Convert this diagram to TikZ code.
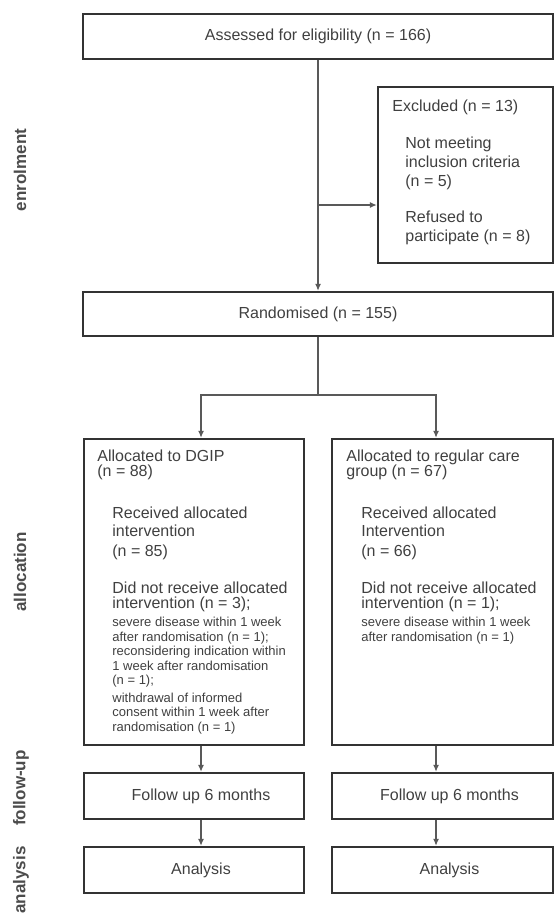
\documentclass[tikz,border=0pt]{standalone}
\usepackage{fontspec}
\setmainfont{Liberation Sans}
\usetikzlibrary{positioning,arrows.meta}

\begin{document}
\begin{tikzpicture}[x=0.5pt, y=-0.5pt,
      box/.style={draw=black!80, line width=1.2pt, inner sep=0pt,
        text=black!75, font=\fontsize{8}{9.5}\selectfont},
      txt/.style={anchor=north west, inner sep=0pt, align=left,
        text=black!75, font=\fontsize{8}{9.5}\selectfont},
      tight/.style={txt, font=\fontsize{8}{7.5}\selectfont},
      small/.style={txt, font=\fontsize{6.5}{7.25}\selectfont},
      phase/.style={rotate=90, inner sep=0pt, text=black!70,
        font=\bfseries\fontsize{8.5}{10}\selectfont},
      conn/.style={draw=black!65, line width=0.6pt},
      arr/.style={conn, -{Latex[length=3.5pt,width=3pt]}}]
      \useasboundingbox (0,0) rectangle (554,915);
      % enrolment
      \node[box, minimum width=235pt, minimum height=22.5pt] (Assess) at (318,36.5)
        {Assessed for eligibility (n = 166)};
      \node[box, minimum width=87.5pt, minimum height=88pt] (Excl) at (465.5,175) {};
      \node[txt] (ExclHead) at (392,100) {Excluded (n = 13)};
      \node[txt] (ExclA) at (405,137) {Not meeting\\inclusion criteria\\(n = 5)};
      \node[txt] (ExclB) at (405,211) {Refused to\\participate (n = 8)};
      \node[box, minimum width=235pt, minimum height=22pt] (Rand) at (318,314)
        {Randomised (n = 155)};
      % allocation
      \node[box, minimum width=110pt, minimum height=153pt] (Dgip) at (194,592) {};
      \node[tight] (DgipHead) at (97,450) {Allocated to DGIP\\(n = 88)};
      \node[txt] (DgipRec) at (112,506) {Received allocated\\intervention\\(n = 85)};
      \node[tight] (DgipNot) at (112,581) {Did not receive allocated\\intervention (n = 3);};
      \node[small, below=2.5pt of DgipNot.south west, anchor=north west] (DgipWhy)
        {severe disease within 1 week\\after randomisation  (n = 1);\\
         reconsidering indication within\\1 week after randomisation\\(n = 1);\\[1.5pt]
         withdrawal of informed\\consent within 1 week after\\randomisation (n = 1)};
      \node[box, minimum width=110.5pt, minimum height=153pt] (Rcg) at (442.5,592) {};
      \node[tight] (RcgHead) at (346,450) {Allocated to regular care\\group (n = 67)};
      \node[txt] (RcgRec) at (361,506) {Received allocated\\Intervention\\(n = 66)};
      \node[tight] (RcgNot) at (361,581) {Did not receive allocated\\intervention (n = 1);};
      \node[small, below=2.5pt of RcgNot.south west, anchor=north west] (RcgWhy)
        {severe disease within 1 week\\after randomisation (n = 1)};
      % follow-up and analysis
      \node[box, minimum width=110pt, minimum height=23pt] (FuL) at (194,796)
        {\hspace*{7pt}Follow up 6 months};
      \node[box, minimum width=110.5pt, minimum height=23pt] (FuR) at (442.5,796)
        {\hspace*{7pt}Follow up 6 months};
      \node[box, minimum width=110pt, minimum height=23pt] (AnL) at (194,870)
        {\hspace*{7pt}Analysis};
      \node[box, minimum width=110.5pt, minimum height=23pt] (AnR) at (442.5,870)
        {\hspace*{7pt}Analysis};
      % phase labels
      \node[phase] (PhEnrol) at (20,170) {enrolment};
      \node[phase] (PhAlloc) at (20,572) {allocation};
      \node[phase] (PhFollow) at (21,788) {follow-up};
      \node[phase] (PhAnal) at (21,880) {analysis};
      % connectors
      \draw[arr] (Assess) -- (Rand);
      \coordinate (ExclSplit) at (318,205);
      \draw[arr] (ExclSplit) -- (ExclSplit -| Excl.west);
      \coordinate (Branch) at (318,395);
      \draw[conn] (Rand) -- (Branch);
      \draw[arr] (Branch) -| ([xshift=3.5pt]Dgip.north);
      \draw[arr] (Branch) -| ([xshift=-3.25pt]Rcg.north);
      \draw[arr] ([xshift=3.5pt]Dgip.south) -- ([xshift=3.5pt]FuL.north);
      \draw[arr] ([xshift=3.5pt]FuL.south) -- ([xshift=3.5pt]AnL.north);
      \draw[arr] ([xshift=-3.25pt]Rcg.south) -- ([xshift=-3.25pt]FuR.north);
      \draw[arr] ([xshift=-3.25pt]FuR.south) -- ([xshift=-3.25pt]AnR.north);
    \end{tikzpicture}
\end{document}
